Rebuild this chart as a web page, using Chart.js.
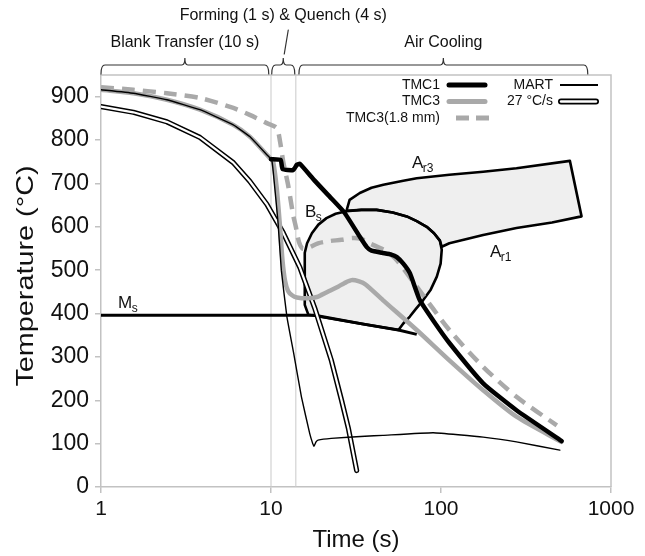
<!DOCTYPE html>
<html><head><meta charset="utf-8">
<script src="https://cdn.jsdelivr.net/npm/chart.js@4.4.1/dist/chart.umd.min.js"></script>
<style>html,body{margin:0;padding:0;background:#fff;}#wrap{width:645px;height:556px;}</style>
</head><body><div id="wrap"><canvas id="c" width="645" height="556"></canvas></div>
<script>
// ---------- data (time in s, temperature in °C) ----------
const xTicks = [1, 10, 100, 1000];
const yTicks = [0, 100, 200, 300, 400, 500, 600, 700, 800, 900];

const seriesNames = ['TMC1', 'TMC3', 'TMC3(1.8 mm)', 'MART', '27 °C/s'];

const tmc1Time = [10.0,11.4,11.7,13.5,14.2,14.8,18,22.2,27,33.3,36.6,39,45,51,55,60,65.6,75,91,112,177,278,513];
const tmc1Temp = [756,754,733,731,743,745,707,669,633,577,553,545,540,536,530,515,493,431,381,332,239,177,106];

const tmc3Time = [1,1.55,2.44,3.82,6.0,7.5,9.45,10.1,10.3,10.8,11.3,11.7,12.1,12.6,13.3,14.2,16.5,18.6,19.8,22,24.8,27,29.8,33,36,45.5,72,112,177,278,510];
const tmc3Temp = [916,908,893,870,835,808,766,754,750,690,600,520,475,452,442,437,435,438,443,452,462,470,477,474,467,431,362,292,223,162,104];

const tmc3ThinTime = [1,1.55,2.44,3.82,6.0,7.5,9.45,10.8,11.3,11.8,12.6,13.5,14.0,14.6,15.3,16.2,18.9,22,26,30,34,38,48,55,72,112,177,278,480];
const tmc3ThinTemp = [922,916,908,897,874,858,839,828,797,750,697,627,600,565,550,550,562,567,570,574,572,562,543,523,462,362,277,208,142];

const martTime = [1,1.55,2.44,3.82,6.0,7.5,9.45,10.1,10.3,11.0,11.5,12.4,13.6,15.1,16.9,17.6,17.9,18.4,18.9,22.6,35.7,45.5,90,177,278,500];
const martTemp = [916,908,893,870,835,808,766,754,728,610,500,393,308,208,123,100,94,104,108,112,117,119,125,115,104,85];

const rate27Time = [1,1.55,2.44,3.82,6.0,7.5,9.45,11.8,14.8,18.1,22.6,26,28.5,31.9];
const rate27Temp = [877,864,842,806,748,705,652,586,506,412,293,200,136,38];

const msTime = [1,18.1,35.7,56.2,72];
const msTemp = [396,396,375,362,352];

const bainiteTime = [15.8,15.8,16.3,17.4,19,21.2,24,27.8,34,41.8,52,62.9,72,82.4,91,98.5,101,99.5,94.5,87,78.6,71,65.6,60,56.2,35.7,18.1,16.6,15.8];
const bainiteTemp = [420,540,562,585,605,620,630,636,639,639,633,624,613,600,585,568,547,515,485,455,431,410,393,377,362,375,395,397,420];

const ferriteTime = [27.8,29,33.3,39,45.8,60,72,112,177,278,573,671,450,278,177,112,101,98.5,91,82.4,72,62.9,52,41.8,34,27.8];
const ferriteTemp = [637,662,678,690,697,706,712,720,727,735,752,624,610,597,581,562,554,568,585,600,613,624,633,639,639,637];

const eventTimes = [10, 14];

const phaseLabels = ['Blank Transfer (10 s)', 'Forming (1 s) & Quench (4 s)', 'Air Cooling'];
const phaseStart = [1, 10.1, 14.6];
const phaseEnd = [9.7, 13.8, 730];

const annoMain = ['A', 'A', 'B', 'M'];
const annoSub = ['r3', 'r1', 's', 's'];
const annoTime = [67.5, 194, 15.85, 1.26];
const annoTemp = [736, 530, 623, 412];

// ---------- helpers ----------
const zip = (t, v) => t.map((x, i) => ({x: x, y: v[i]}));
const FONT = '"Liberation Sans", Arial, Helvetica, sans-serif';
const GRAY = '#a9a9a9';
const AXIS = '#c2c2c2';

const line = (data, color, width, order, extra) => Object.assign({
  data: data, borderColor: color, borderWidth: width, pointRadius: 0,
  showLine: true, fill: false, tension: 0, order: order,
  borderCapStyle: 'round', borderJoinStyle: 'round'
}, extra || {});

const datasets = [];
eventTimes.forEach(t => datasets.push(line([{x: t, y: 0}, {x: t, y: 950}], '#c9c9c9', 1, 100, {borderCapStyle: 'butt'})));
datasets.push(line(zip(bainiteTime, bainiteTemp), '#000', 2.6, 90, {fill: 'shape', backgroundColor: '#efefef'}));
datasets.push(line(zip(ferriteTime, ferriteTemp), '#000', 2.6, 89, {fill: 'shape', backgroundColor: '#efefef'}));
datasets.push(line(zip(msTime, msTemp), '#000', 3, 80, {borderCapStyle: 'butt'}));
datasets.push(line(zip(rate27Time, rate27Temp), '#000', 5.2, 70));
datasets.push(line(zip(rate27Time, rate27Temp), '#fff', 2.2, 69));
datasets.push(line(zip(tmc3Time, tmc3Temp), GRAY, 4.5, 60, {tension: 0.25}));
datasets.push(line(zip(tmc3ThinTime, tmc3ThinTemp), GRAY, 4.5, 50, {tension: 0.25, borderDash: [13, 8], borderCapStyle: 'butt'}));
datasets.push(line(zip(tmc1Time, tmc1Temp), '#000', 4.5, 40, {tension: 0.15}));
datasets.push(line(zip(martTime, martTemp), '#000', 1.4, 30, {tension: 0.1}));

function brace(ctx, x0, x1, yb) {
  const xm = (x0 + x1) / 2;
  ctx.beginPath();
  ctx.moveTo(x0, yb + 9);
  ctx.quadraticCurveTo(x0, yb, x0 + 4, yb);
  ctx.lineTo(xm - 3, yb);
  ctx.quadraticCurveTo(xm, yb, xm, yb - 7);
  ctx.quadraticCurveTo(xm, yb, xm + 3, yb);
  ctx.lineTo(x1 - 4, yb);
  ctx.quadraticCurveTo(x1, yb, x1, yb + 9);
  ctx.stroke();
}

const deco = {
  id: 'deco',
  beforeDatasetsDraw(chart) {
    const {ctx, chartArea: a} = chart;
    ctx.save();
    ctx.strokeStyle = AXIS; ctx.lineWidth = 1.5;
    ctx.beginPath(); ctx.moveTo(a.left, a.top); ctx.lineTo(a.right, a.top); ctx.lineTo(a.right, a.bottom); ctx.stroke();
    ctx.restore();
  },
  afterDraw(chart) {
    const {ctx, chartArea: a, scales: {x, y}} = chart;
    ctx.save();
    ctx.fillStyle = '#111';
    // region / line annotations
    annoMain.forEach((m, i) => {
      const px = x.getPixelForValue(annoTime[i]), py = y.getPixelForValue(annoTemp[i]);
      ctx.font = '17px ' + FONT; ctx.textAlign = 'left'; ctx.textBaseline = 'alphabetic';
      ctx.fillText(m, px, py);
      const w = ctx.measureText(m).width;
      ctx.font = '12px ' + FONT;
      ctx.fillText(annoSub[i], px + w - 0.5, py + 4);
    });
    // legend
    ctx.font = '14px ' + FONT; ctx.textAlign = 'right'; ctx.textBaseline = 'middle';
    const r = a.right, t = a.top;
    const rows = [t + 10, t + 26.5, t + 43];
    ctx.fillText(seriesNames[0], r - 171, rows[0]);
    ctx.fillText(seriesNames[1], r - 171, rows[1]);
    ctx.fillText(seriesNames[2], r - 171, rows[2]);
    ctx.fillText(seriesNames[3], r - 58, rows[0]);
    ctx.fillText(seriesNames[4], r - 58, rows[1]);
    ctx.lineCap = 'round';
    ctx.strokeStyle = '#000'; ctx.lineWidth = 5;
    ctx.beginPath(); ctx.moveTo(r - 162, rows[0]); ctx.lineTo(r - 126, rows[0]); ctx.stroke();
    ctx.strokeStyle = GRAY;
    ctx.beginPath(); ctx.moveTo(r - 162, rows[1]); ctx.lineTo(r - 126, rows[1]); ctx.stroke();
    ctx.lineCap = 'butt'; ctx.setLineDash([13, 7]);
    ctx.beginPath(); ctx.moveTo(r - 155, rows[2]); ctx.lineTo(r - 122, rows[2]); ctx.stroke();
    ctx.setLineDash([]);
    ctx.strokeStyle = '#000'; ctx.lineWidth = 2;
    ctx.beginPath(); ctx.moveTo(r - 51, rows[0]); ctx.lineTo(r - 13, rows[0]); ctx.stroke();
    ctx.lineCap = 'round'; ctx.lineWidth = 6;
    ctx.beginPath(); ctx.moveTo(r - 50, rows[1]); ctx.lineTo(r - 15, rows[1]); ctx.stroke();
    ctx.strokeStyle = '#fff'; ctx.lineWidth = 2.4;
    ctx.beginPath(); ctx.moveTo(r - 50, rows[1]); ctx.lineTo(r - 15, rows[1]); ctx.stroke();
    // phase braces
    ctx.strokeStyle = '#333'; ctx.lineWidth = 1.2;
    const yb = a.top - 10;
    ctx.font = '16px ' + FONT; ctx.textAlign = 'center'; ctx.textBaseline = 'middle'; ctx.fillStyle = '#111';
    phaseLabels.forEach((lab, i) => {
      const x0 = x.getPixelForValue(phaseStart[i]), x1 = x.getPixelForValue(phaseEnd[i]);
      brace(ctx, x0, x1, yb);
      const xm = (x0 + x1) / 2;
      if (i === 1) {
        ctx.fillText(lab, xm + 0, a.top - 59);
        ctx.beginPath(); ctx.moveTo(xm + 5, a.top - 45); ctx.lineTo(xm + 1, a.top - 21); ctx.stroke();
      } else {
        ctx.fillText(lab, xm, a.top - 32);
      }
    });
    // y axis title
    ctx.translate(26, 276); ctx.rotate(-Math.PI / 2); ctx.scale(1.2, 1);
    ctx.font = '24px ' + FONT; ctx.textAlign = 'center'; ctx.textBaseline = 'middle';
    ctx.fillText('Temperature (\u00B0C)', 0, 0);
    ctx.restore();
  }
};

new Chart(document.getElementById('c'), {
  type: 'scatter',
  data: {datasets: datasets},
  options: {
    responsive: false, animation: false, devicePixelRatio: 1,
    layout: {padding: {top: 75, right: 34, left: 0, bottom: 0}},
    plugins: {legend: {display: false}, tooltip: {enabled: false}, filler: {drawTime: 'beforeDatasetsDraw'}},
    scales: {
      x: {
        type: 'logarithmic', min: 1, max: 1000,
        afterBuildTicks: s => { s.ticks = xTicks.map(v => ({value: v})); },
        afterFit: s => { s.height = 69; },
        ticks: {callback: v => String(v), font: {family: FONT, size: 21}, color: '#111', padding: 4, maxRotation: 0, autoSkip: false},
        grid: {display: true, drawOnChartArea: false, drawTicks: true, tickLength: 6, color: AXIS, lineWidth: 1.5},
        border: {display: true, color: AXIS, width: 1.5},
        title: {display: true, text: 'Time (s)', font: {family: FONT, size: 24}, color: '#111', padding: {top: 0, bottom: 1}}
      },
      y: {
        type: 'linear', min: 0, max: 950,
        afterBuildTicks: s => { s.ticks = yTicks.map(v => ({value: v})); },
        afterFit: s => { s.width = 101; },
        ticks: {callback: v => String(v), font: {family: FONT, size: 23}, color: '#111', padding: 6, autoSkip: false},
        grid: {display: true, drawOnChartArea: false, drawTicks: true, tickLength: 6, color: AXIS, lineWidth: 1.5},
        border: {display: true, color: AXIS, width: 1.5}
      }
    }
  },
  plugins: [deco]
});
</script></body></html>
